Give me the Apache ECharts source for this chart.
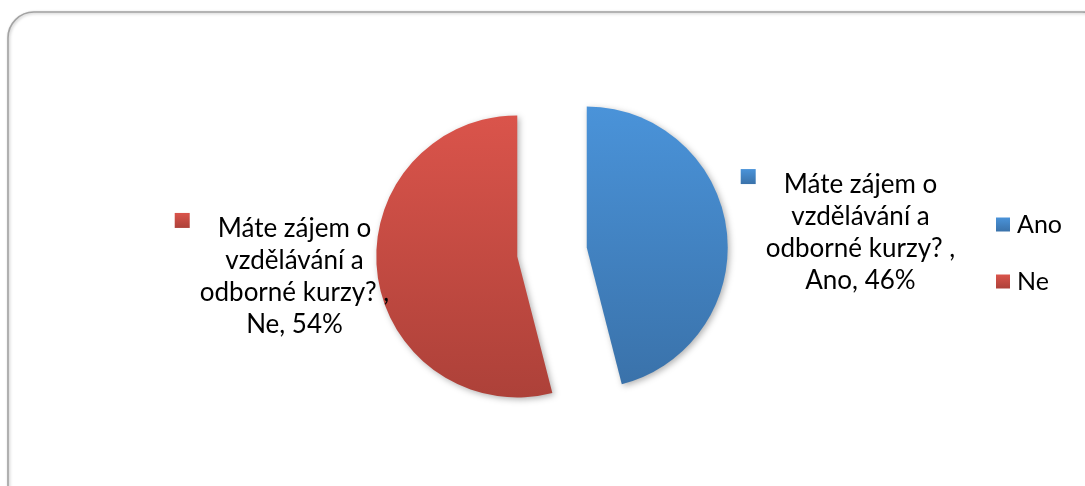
<!DOCTYPE html>
<html>
<head>
<meta charset="utf-8">
<script src="https://cdn.jsdelivr.net/npm/echarts@6/dist/echarts.min.js"></script>
<style>
html,body{margin:0;padding:0;background:#fff;}
#chart{width:1085px;height:486px;}
</style>
</head>
<body>
<div id="chart"></div>
<script>
const categories = ['Ano', 'Ne'];
const values = [46, 54];
const questionLines = ['Máte zájem o', 'vzdělávání a', 'odborné kurzy? ,'];

const colorsTop = ['#4a93d9', '#da544b'];
const colorsBottom = ['#3a72aa', '#ad4139'];

function grad(i) {
  return new echarts.graphic.LinearGradient(0, 0, 0, 1, [
    { offset: 0, color: colorsTop[i] },
    { offset: 1, color: colorsBottom[i] }
  ]);
}

const chart = echarts.init(document.getElementById('chart'), null, { renderer: 'canvas' });
const FONT = 'Lato';
const FS = 26;

const data = categories.map((name, i) => ({
  name: name,
  value: values[i],
  selected: true,
  itemStyle: { color: grad(i) },
  label: {
    rich: {
      sq: { width: 15, height: 15, backgroundColor: grad(i), verticalAlign: 'top' },
      g: { width: 28 },
      p: { width: 43 },
      t: { fontFamily: FONT, fontSize: FS, color: '#000', lineHeight: 32 }
    }
  }
}));

const labelShift = [[84, 5], [-33, 1]];

chart.setOption({
  animation: false,
  backgroundColor: '#fff',
  graphic: [{
    type: 'rect',
    shape: { x: 8, y: 12, width: 1100, height: 500, r: 26 },
    style: { fill: '#fff', stroke: '#a3a3a3', lineWidth: 1.6, shadowBlur: 3, shadowColor: 'rgba(0,0,0,0.25)', shadowOffsetX: 1, shadowOffsetY: 1 },
    z: -10,
    silent: true
  }],
  legend: {
    orient: 'vertical',
    left: 996,
    top: 212,
    padding: 0,
    itemWidth: 14,
    itemHeight: 14,
    itemGap: 32,
    icon: 'rect',
    textStyle: { fontFamily: FONT, fontSize: 25, color: '#000', padding: [0, 0, 0, 2] },
    data: categories
  },
  series: [{
    type: 'pie',
    name: 'Máte zájem o vzdělávání a odborné kurzy?',
    center: [552, 252],
    radius: 141,
    startAngle: 90,
    clockwise: true,
    selectedMode: 'multiple',
    selectedOffset: 35,
    avoidLabelOverlap: false,
    emphasis: { disabled: true },
    select: { itemStyle: {} },
    itemStyle: { shadowBlur: 6, shadowColor: 'rgba(0,0,0,0.3)', shadowOffsetX: 2, shadowOffsetY: 2 },
    label: {
      show: true,
      position: 'outside',
      fontFamily: FONT,
      fontSize: FS,
      color: '#000',
      lineHeight: 32,
      formatter: function (p) {
        return '{sq|}{g|}{t|' + questionLines[0] + '}{p|}\n{t|' + questionLines[1] + '}\n{t|' + questionLines[2] + '}\n{t|' + p.name + ', ' + Math.round(p.percent) + '%}';
      }
    },
    labelLine: { show: false },
    labelLayout: function (p) {
      const s = labelShift[p.dataIndex];
      return { dx: s[0], dy: s[1], align: 'center', verticalAlign: 'middle' };
    },
    data: data
  }]
});
</script>
</body>
</html>
